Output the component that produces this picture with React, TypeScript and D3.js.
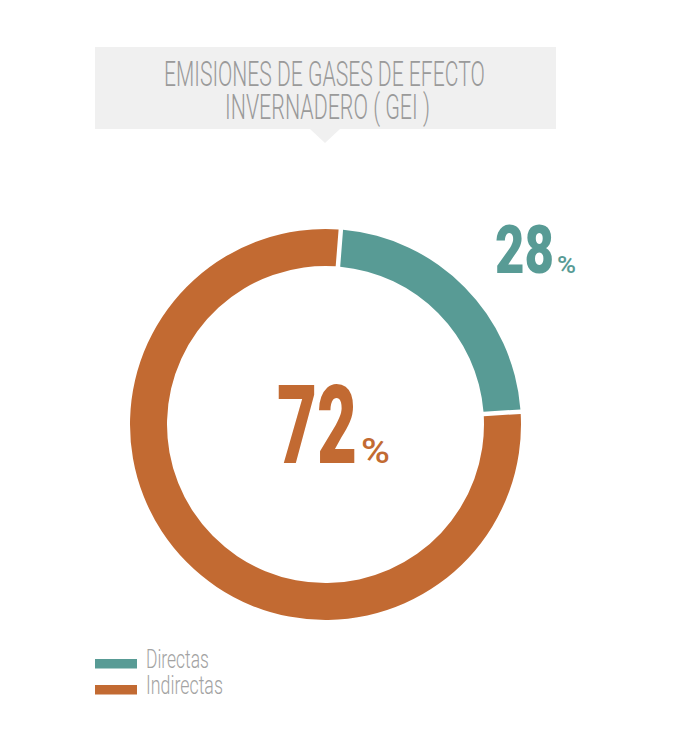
import React, { useLayoutEffect, useRef, useState } from "react";
import * as d3 from "d3";

const categories = ["Directas", "Indirectas"];
const labelPercents = [28, 72];
// angular shares of the ring as drawn in the reference (not to scale with labels)
const arcShares = [22.5, 77.5];
const colors = ["#589b95", "#c26a32"];
const titleLines = ["EMISIONES DE GASES DE EFECTO", "INVERNADERO ( GEI )"];

const W = 686;
const H = 748;
const FONT = "Roboto, 'Liberation Sans', sans-serif";

type FitProps = {
  x: number;
  y: number;
  width: number;
  size: number;
  weight: number;
  fill: string;
  children: string;
};

function FitText({ x, y, width, size, weight, fill, children }: FitProps) {
  const ref = useRef<SVGTextElement>(null);
  const [sx, setSx] = useState(1);
  useLayoutEffect(() => {
    if (ref.current) {
      const w = ref.current.getComputedTextLength();
      if (w > 0) setSx(width / w);
    }
  }, [width, children, size, weight]);
  return (
    <text
      ref={ref}
      transform={`translate(${x},${y}) scale(${sx},1)`}
      fontFamily={FONT}
      fontWeight={weight}
      fontSize={size}
      fill={fill}
    >
      {children}
    </text>
  );
}

export default function App() {
  const cx = 325.5;
  const cy = 424.5;
  const rOuter = 195.5;
  const rInner = 158.5;
  const start = (4.5 * Math.PI) / 180;

  const pie = d3
    .pie<number>()
    .sort(null)
    .value((d) => d)
    .startAngle(start)
    .endAngle(start + 2 * Math.PI)
    .padAngle(4.5 / rOuter);
  const arcs = pie(arcShares);
  const arcGen = d3
    .arc<d3.PieArcDatum<number>>()
    .innerRadius(rInner)
    .outerRadius(rOuter)
    .padRadius(rOuter);

  return (
    <svg
      width={W}
      height={H}
      style={{ position: "absolute", left: 0, top: 0, display: "block", background: "#fff" }}
    >
      {/* title box */}
      <rect x={95} y={47} width={461} height={82} fill="#f0f0f0" />
      <path d="M310,129 L340,129 L325,143 Z" fill="#f0f0f0" />
      <FitText x={164} y={85.5} width={321} size={35} weight={300} fill="#9a9a9a">
        {titleLines[0]}
      </FitText>
      <FitText x={225} y={118.5} width={205} size={35} weight={300} fill="#9a9a9a">
        {titleLines[1]}
      </FitText>

      {/* donut */}
      <g transform={`translate(${cx},${cy})`}>
        {arcs.map((a, i) => (
          <path key={categories[i]} d={arcGen(a) || ""} fill={colors[i]} />
        ))}
      </g>

      {/* 28% */}
      <FitText x={495} y={273} width={59} size={67} weight={900} fill={colors[0]}>
        {String(labelPercents[0])}
      </FitText>
      <FitText x={557} y={273} width={19} size={23} weight={500} fill={colors[0]}>
        %
      </FitText>

      {/* 72% */}
      <FitText x={277} y={463} width={80} size={109} weight={900} fill={colors[1]}>
        {String(labelPercents[1])}
      </FitText>
      <FitText x={361} y={463} width={29} size={35} weight={500} fill={colors[1]}>
        %
      </FitText>

      {/* legend */}
      {categories.map((c, i) => (
        <g key={c}>
          <rect x={95} y={659 + i * 26} width={42} height={9.5} fill={colors[i]} />
          <FitText
            x={146}
            y={668 + i * 26}
            width={i === 0 ? 63 : 77}
            size={25}
            weight={300}
            fill="#a3a3a3"
          >
            {c}
          </FitText>
        </g>
      ))}
    </svg>
  );
}
